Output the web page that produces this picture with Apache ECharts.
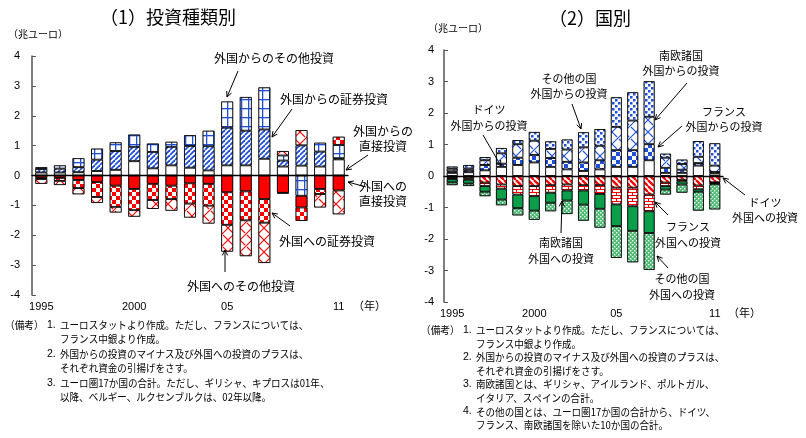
<!DOCTYPE html>
<html>
<head>
<meta charset="utf-8">
<script src="https://cdn.jsdelivr.net/npm/echarts@6/dist/echarts.min.js"></script>
<style>
  html, body { margin: 0; padding: 0; background: #fff; }
  #chart { width: 806px; height: 438px; }
</style>
</head>
<body>
<div id="chart"></div>
<script>
// categories / tick labels
const years = ['1995','1996','1997','1998','1999','2000','2001','2002','2003','2004','2005','2006','2007','2008','2009','2010','2011'];
const xLabels = ['1995','','','','','2000','','','','','05','','','','','','11'];
const yTicks = [-4, -3, -2, -1, 0, 1, 2, 3, 4];

// (1) 投資種類別  (兆ユーロ)
const inDirect = [0.10, 0.10, 0.11, 0.15, 0.19, 0.48, 0.24, 0.34, 0.26, 0.17, 0.34, 0.34, 0.56, 0.30, 0.33, 0.30, 0.54];
const inSec    = [0.12, 0.13, 0.17, 0.38, 0.63, 0.48, 0.55, 0.62, 0.73, 0.81, 1.26, 1.16, 0.98, 0.20, 0.68, 0.50, 0.04];
const inOther  = [0.06, 0.11, 0.30, 0.37, 0.29, 0.41, 0.28, 0.17, 0.36, 0.52, 0.88, 1.13, 1.41, 0.17, -0.68, 0.30, 0.44];
const outDirect = [-0.08, -0.08, -0.15, -0.22, -0.34, -0.45, -0.28, -0.34, -0.26, -0.28, -0.56, -0.53, -0.79, -0.58, -0.39, -0.45, -0.50];
const outSec    = [-0.04, -0.10, -0.27, -0.50, -0.71, -0.71, -0.54, -0.45, -0.68, -0.73, -1.09, -0.97, -0.79, -0.02, -0.45, -0.17, 0.28];
const outOther  = [-0.16, -0.14, -0.21, -0.20, -0.19, -0.22, -0.30, -0.39, -0.47, -0.60, -0.90, -1.20, -1.35, 0.15, 0.51, -0.45, -0.80];

// (2) 国別
const deIn = [0.10, 0.12, 0.18, 0.29, 0.35, 0.43, 0.29, 0.21, 0.16, 0.21, 0.29, 0.29, 0.50, 0.10, 0.10, 0.33, 0.08];
const frIn = [0.05, 0.06, 0.17, 0.10, 0.23, 0.24, 0.28, 0.24, 0.27, 0.29, 0.53, 0.53, 0.51, 0.16, 0.10, 0.08, 0.05];
const seIn = [0.08, 0.06, 0.15, 0.33, 0.43, 0.45, 0.29, 0.39, 0.48, 0.46, 0.74, 0.94, 0.87, 0.32, 0.18, 0.20, 0.20];
const otIn = [0.07, 0.11, 0.10, 0.17, 0.13, 0.28, 0.24, 0.32, 0.48, 0.53, 0.94, 0.90, 1.13, 0.13, 0.14, 0.50, 0.71];
const deOut = [-0.06, -0.07, -0.21, -0.27, -0.32, -0.32, -0.29, -0.27, -0.29, -0.29, -0.37, -0.37, -0.59, -0.21, -0.12, -0.30, -0.20];
const frOut = [-0.04, -0.05, -0.11, -0.13, -0.27, -0.32, -0.24, -0.19, -0.17, -0.28, -0.53, -0.59, -0.53, -0.11, -0.05, -0.12, -0.02];
const seOut = [-0.10, -0.12, -0.18, -0.35, -0.43, -0.46, -0.32, -0.32, -0.45, -0.47, -0.69, -0.78, -0.69, -0.11, -0.10, -0.08, -0.04];
const otOut = [-0.09, -0.08, -0.14, -0.18, -0.23, -0.29, -0.27, -0.43, -0.51, -0.60, -1.01, -1.00, -1.17, -0.16, -0.26, -0.60, -0.80];

const notes1 = [
  ['（備考）', '1.', 'ユーロスタットより作成。ただし、フランスについては、'],
  ['', '', 'フランス中銀より作成。'],
  ['', '2.', '外国からの投資のマイナス及び外国への投資のプラスは、'],
  ['', '', 'それぞれ資金の引揚げをさす。'],
  ['', '3.', 'ユーロ圏17か国の合計。ただし、ギリシャ、キプロスは01年、'],
  ['', '', '以降、ベルギー、ルクセンブルクは、02年以降。']
];
const notes2 = [
  ['（備考）', '1.', 'ユーロスタットより作成。ただし、フランスについては、'],
  ['', '', 'フランス中銀より作成。'],
  ['', '2.', '外国からの投資のマイナス及び外国への投資のプラスは、'],
  ['', '', 'それぞれ資金の引揚げをさす。'],
  ['', '3.', '南欧諸国とは、ギリシャ、アイルランド、ポルトガル、'],
  ['', '', 'イタリア、スペインの合計。'],
  ['', '4.', 'その他の国とは、ユーロ圏17か国の合計から、ドイツ、'],
  ['', '', 'フランス、南欧諸国を除いた10か国の合計。']
];

const JP = "'Noto Sans CJK JP', sans-serif";
const NUM = "'Liberation Sans Narrow', 'Liberation Sans', sans-serif";
const BLUE = '#1f4fd6', RED = '#ff0000', GREEN = '#0b9f4c';

// fill patterns
function pat(w, h, bg, fn) {
  const c = document.createElement('canvas');
  c.width = w; c.height = h;
  const g = c.getContext('2d');
  g.fillStyle = bg; g.fillRect(0, 0, w, h);
  fn(g);
  return { image: c, repeat: 'repeat' };
}
const stripeUp = pat(5, 5, '#fff', g => {
  g.strokeStyle = BLUE; g.lineWidth = 1.8;
  [-5, 0, 5].forEach(k => { g.beginPath(); g.moveTo(k, 5); g.lineTo(k + 5, 0); g.stroke(); });
});
const stripeDown = pat(6, 6, '#fff', g => {
  g.strokeStyle = RED; g.lineWidth = 2.4;
  [-6, 0, 6].forEach(k => { g.beginPath(); g.moveTo(k, 0); g.lineTo(k + 6, 6); g.stroke(); });
});
function checker(col, s) {
  return pat(2 * s, 2 * s, '#fff', g => { g.fillStyle = col; g.fillRect(0, 0, s, s); g.fillRect(s, s, s, s); });
}
const blueGrid = pat(7, 9, '#fff', g => {
  g.fillStyle = BLUE; g.fillRect(3, 0, 1.3, 9); g.fillRect(0, 0, 7, 1.3);
});
function lattice(col) {
  return pat(12, 12, '#fff', g => {
    g.strokeStyle = col; g.lineWidth = 1.1;
    g.beginPath(); g.moveTo(0, 12); g.lineTo(12, 0); g.stroke();
    g.beginPath(); g.moveTo(0, 0); g.lineTo(5, 5); g.stroke();
    g.beginPath(); g.moveTo(7, 7); g.lineTo(12, 12); g.stroke();
  });
}
const blueDots = pat(6, 6, '#fff', g => {
  g.fillStyle = BLUE; g.fillRect(0, 0, 2.5, 2.5); g.fillRect(3, 3, 2.5, 2.5);
});
const brick = pat(8, 6, '#fff', g => {
  g.strokeStyle = RED; g.lineWidth = 1;
  g.beginPath(); g.moveTo(0, 0.5); g.lineTo(8, 0.5); g.moveTo(0, 3.5); g.lineTo(8, 3.5);
  g.moveTo(0.5, 0.5); g.lineTo(0.5, 3.5); g.moveTo(4.5, 3.5); g.lineTo(4.5, 6); g.stroke();
});
const greenDots = pat(4, 4, '#4cbc72', g => {
  g.fillStyle = '#fff'; g.fillRect(0, 0, 1.4, 1.4); g.fillRect(2, 2, 1.4, 1.4);
});

function posTotal(arrs) { return years.map((_, i) => arrs.reduce((s, a) => s + Math.max(a[i], 0), 0)); }
function negTotal(arrs) { return years.map((_, i) => arrs.reduce((s, a) => s + Math.min(a[i], 0), 0)); }

function seg(name, data, color, xi, yi, bw) {
  return {
    name, type: 'bar', stack: 'm' + xi, xAxisIndex: xi, yAxisIndex: yi, data,
    barWidth: bw, barGap: '-100%', z: 3,
    itemStyle: { color, borderColor: '#000', borderWidth: 0.9 }
  };
}
function outline(data, xi, yi, bw) {
  return {
    type: 'bar', stack: 'o' + xi, xAxisIndex: xi, yAxisIndex: yi, data,
    barWidth: bw, barGap: '-100%', z: 2, silent: true,
    itemStyle: { color: 'rgba(0,0,0,0)', borderColor: '#8a8a8a', borderWidth: 3 }
  };
}

const left = [inDirect, inSec, inOther, outDirect, outSec, outOther];
const right = [deIn, frIn, seIn, otIn, deOut, frOut, seOut, otOut];

// annotation helpers
function txt(x, y, s, size, align, font) {
  return {
    type: 'text', x, y, z: 20,
    style: { text: s, fontSize: size, fontFamily: font || JP, fill: '#000',
      align: align || 'left', verticalAlign: 'middle',
      textAlign: align || 'left', textVerticalAlign: 'middle' }
  };
}
function arrow(x1, y1, x2, y2) {
  const a = Math.atan2(y2 - y1, x2 - x1), L = 6, s = 0.45;
  const p1 = [x2 - L * Math.cos(a - s), y2 - L * Math.sin(a - s)];
  const p2 = [x2 - L * Math.cos(a + s), y2 - L * Math.sin(a + s)];
  return [
    { type: 'line', z: 20, shape: { x1, y1, x2, y2 }, style: { stroke: '#000', lineWidth: 1 } },
    { type: 'polyline', z: 20, shape: { points: [p1, [x2, y2], p2] }, style: { stroke: '#000', lineWidth: 1, fill: null } }
  ];
}
function noteBlock(x, y0, step, lines) {
  const out = [];
  lines.forEach((l, i) => {
    const y = y0 + i * step;
    if (l[0]) out.push(Object.assign(txt(x, y, l[0], 10.5), { scaleX: 0.92 }));
    if (l[1]) out.push(txt(x + 42, y, l[1], 10.5, 'left', NUM));
    out.push(Object.assign(txt(x + 55, y, l[2], 10.5), { scaleX: 0.91 }));
  });
  return out;
}

const graphic = [
  txt(168, 17, '（1）投資種類別', 18, 'center'),
  txt(590, 18, '（2）国別', 18, 'center'),
  txt(8, 34, '（兆ユーロ）', 10),
  txt(428, 28, '（兆ユーロ）', 10),
  txt(353, 306, '（年）', 11),
  txt(728, 313, '（年）', 11),

  txt(274, 58, '外国からのその他投資', 12, 'center'),
  ...arrow(238, 71, 227, 97),
  txt(334, 99, '外国からの証券投資', 12, 'center'),
  ...arrow(292, 109, 272, 137),
  txt(383, 131, '外国からの', 12, 'center'),
  txt(383, 146, '直接投資', 12, 'center'),
  ...arrow(368, 155, 346, 170),
  txt(383, 186, '外国への', 12, 'center'),
  txt(383, 201, '直接投資', 12, 'center'),
  ...arrow(366, 187, 348, 182),
  txt(327, 241, '外国への証券投資', 12, 'center'),
  ...arrow(290, 226, 272, 213),
  txt(241, 286, '外国へのその他投資', 12, 'center'),
  ...arrow(225, 272, 225, 250),

  txt(681, 56, '南欧諸国', 11, 'center'),
  txt(681, 71, '外国からの投資', 11, 'center'),
  ...arrow(687, 83, 655, 120),
  txt(569, 79, 'その他の国', 11, 'center'),
  txt(569, 94, '外国からの投資', 11, 'center'),
  ...arrow(572, 104, 581, 129),
  txt(489, 110, 'ドイツ', 11, 'center'),
  txt(489, 126, '外国からの投資', 11, 'center'),
  ...arrow(483, 135, 501, 166),
  txt(724, 112, 'フランス', 11, 'center'),
  txt(724, 127, '外国からの投資', 11, 'center'),
  ...arrow(682, 126, 658, 147),
  txt(765, 203, 'ドイツ', 11, 'center'),
  txt(765, 218, '外国への投資', 11, 'center'),
  ...arrow(745, 195, 723, 178),
  txt(688, 227, 'フランス', 11, 'center'),
  txt(688, 243, '外国への投資', 11, 'center'),
  ...arrow(668, 215, 655, 202),
  txt(682, 279, 'その他の国', 11, 'center'),
  txt(682, 295, '外国への投資', 11, 'center'),
  ...arrow(668, 268, 657, 256),
  txt(561, 243, '南欧諸国', 11, 'center'),
  txt(561, 259, '外国への投資', 11, 'center'),
  ...arrow(561, 233, 562, 201),

  ...noteBlock(5, 325, 14.5, notes1),
  ...noteBlock(421, 330, 13.6, notes2)
];

function yAx(gi, margin) {
  return {
    type: 'value', gridIndex: gi, min: -4, max: 4, interval: 1,
    splitLine: { show: false },
    axisLine: { show: true, lineStyle: { color: '#555', width: 1.5 } },
    axisTick: { show: true, inside: true, length: 4, lineStyle: { color: '#555' } },
    axisLabel: { margin, color: '#000', fontSize: 11, fontFamily: NUM,
      formatter: v => yTicks.indexOf(v) >= 0 ? String(v) : '' }
  };
}
function xZero(gi) {
  return {
    type: 'category', gridIndex: gi, data: years, z: 10,
    axisLine: { onZero: true, lineStyle: { color: '#000', width: 1.3 } },
    axisTick: { show: false }, axisLabel: { show: false }
  };
}
function xBottom(gi, margin) {
  return {
    type: 'category', gridIndex: gi, data: years, position: 'bottom',
    axisLine: { show: false, onZero: false }, axisTick: { show: false },
    axisLabel: { interval: 0, margin, color: '#000', fontSize: 11, fontFamily: NUM,
      formatter: (v, i) => xLabels[i] }
  };
}

const chart = echarts.init(document.getElementById('chart'), null, { renderer: 'canvas' });
chart.setOption({
  animation: false,
  backgroundColor: '#fff',
  grid: [
    { left: 32, top: 56, width: 316, height: 239 },
    { left: 444, top: 50, width: 279, height: 252 }
  ],
  xAxis: [xZero(0), xBottom(0, 6), xZero(1), xBottom(1, 6)],
  yAxis: [yAx(0, 12), yAx(1, 10)],
  series: [
    outline(posTotal(left), 0, 0, 12),
    outline(negTotal(left), 0, 0, 12),
    seg('外国からの直接投資', inDirect, '#fff', 0, 0, 12),
    seg('外国からの証券投資', inSec, stripeUp, 0, 0, 12),
    seg('外国からのその他投資', inOther, blueGrid, 0, 0, 12),
    seg('外国への直接投資', outDirect, RED, 0, 0, 12),
    seg('外国への証券投資', outSec, checker(RED, 4), 0, 0, 12),
    seg('外国へのその他投資', outOther, lattice(RED), 0, 0, 12),

    outline(posTotal(right), 2, 1, 11),
    outline(negTotal(right), 2, 1, 11),
    seg('ドイツ 外国からの投資', deIn, '#fff', 2, 1, 11),
    seg('フランス 外国からの投資', frIn, checker(BLUE, 4), 2, 1, 11),
    seg('南欧諸国 外国からの投資', seIn, lattice(BLUE), 2, 1, 11),
    seg('その他の国 外国からの投資', otIn, blueDots, 2, 1, 11),
    seg('ドイツ 外国への投資', deOut, stripeDown, 2, 1, 11),
    seg('フランス 外国への投資', frOut, brick, 2, 1, 11),
    seg('南欧諸国 外国への投資', seOut, GREEN, 2, 1, 11),
    seg('その他の国 外国への投資', otOut, greenDots, 2, 1, 11)
  ],
  graphic
});
</script>
</body>
</html>
